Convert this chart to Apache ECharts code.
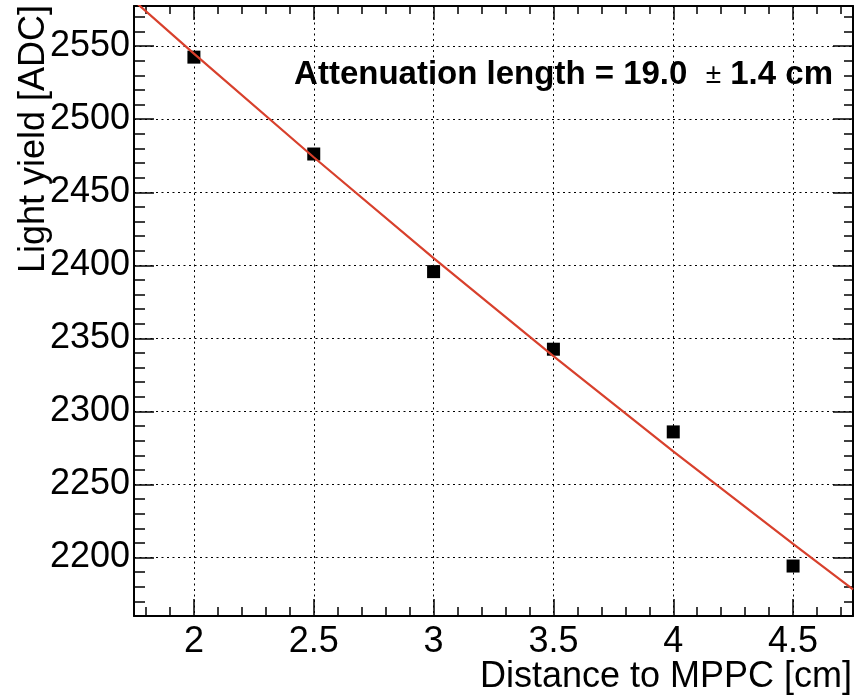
<!DOCTYPE html>
<html>
<head>
<meta charset="utf-8">
<script src="https://cdn.jsdelivr.net/npm/echarts@6/dist/echarts.min.js"></script>
<style>
html,body{margin:0;padding:0;background:#fff;}
#chart{width:856px;height:697px;}
</style>
</head>
<body>
<div id="chart"></div>
<script>
// ---- data ----
var distances = [2.0, 2.5, 3.0, 3.5, 4.0, 4.5];
var lightYield = [2542.5, 2476.2, 2395.7, 2342.6, 2286.0, 2194.2];
// fit curve
var fitX = [1.75, 2.0, 2.5, 3.0, 3.5, 4.0, 4.5, 4.75];
var fitY = [2581.1, 2544.9, 2474.0, 2405.0, 2337.9, 2272.7, 2209.3, 2178.3];
var xMajorTicks = [2, 2.5, 3, 3.5, 4, 4.5];
var xMinorTicks = [1.8,1.9,2.1,2.2,2.3,2.4,2.6,2.7,2.8,2.9,3.1,3.2,3.3,3.4,3.6,3.7,3.8,3.9,4.1,4.2,4.3,4.4,4.6,4.7];
var yMajorTicks = [2200, 2250, 2300, 2350, 2400, 2450, 2500, 2550];
var yMinorTicks = [2170,2180,2190,2210,2220,2230,2240,2260,2270,2280,2290,2310,2320,2330,2340,2360,2370,2380,2390,2410,2420,2430,2440,2460,2470,2480,2490,2510,2520,2530,2540,2560,2570];
var xTitle = 'Distance to MPPC [cm]';
var yTitle = 'Light yield [ADC]';
var fitLabelMain = 'Attenuation length = 19.0  ';
var fitLabelPm = '\u00b1';
var fitLabelErr = ' 1.4 cm';

var X_MIN = 1.75, X_MAX = 4.75, Y_MIN = 2160, Y_MAX = 2577.5;
var FONT = '"Liberation Sans", Arial, Helvetica, sans-serif';

var chart = echarts.init(document.getElementById('chart'), null, {renderer: 'canvas'});

function xAxisDef(pos, ticks, len, major, label) {
  return {
    type: 'value', position: pos, min: X_MIN, max: X_MAX,
    axisLine: {show: major, onZero: false, lineStyle: {color: '#000', width: 2}},
    axisTick: {show: true, inside: true, length: len, customValues: ticks, lineStyle: {color: '#000', width: 1.5}},
    axisLabel: label ? {show: true, customValues: xMajorTicks, fontSize: 36, fontFamily: FONT, color: '#000', margin: 8,
      formatter: function (v) { return String(v); }} : {show: false},
    splitLine: label ? {show: true, lineStyle: {color: '#000', width: 1, type: [2, 3.5]}} : {show: false},
    minorTick: {show: false}
  };
}
function yAxisDef(pos, ticks, len, major, label) {
  return {
    type: 'value', position: pos, min: Y_MIN, max: Y_MAX, splitNumber: 8,
    axisLine: {show: major, onZero: false, lineStyle: {color: '#000', width: 2}},
    axisTick: {show: true, inside: true, length: len, customValues: ticks, lineStyle: {color: '#000', width: 1.5}},
    axisLabel: label ? {show: true, customValues: yMajorTicks, fontSize: 36, fontFamily: FONT, color: '#000', margin: 4,
      formatter: function (v) { return String(v); }} : {show: false},
    splitLine: label ? {show: true, lineStyle: {color: '#000', width: 1, type: [2, 3.5]}} : {show: false}
  };
}

var option = {
  animation: false,
  backgroundColor: '#fff',
  grid: {left: 134, right: 3, top: 6, bottom: 81, containLabel: false},
  xAxis: [
    xAxisDef('bottom', xMajorTicks, 17, true, true),
    xAxisDef('bottom', xMinorTicks, 9, false, false),
    xAxisDef('top', xMajorTicks, 14, true, false),
    xAxisDef('top', xMinorTicks, 8, false, false)
  ],
  yAxis: [
    yAxisDef('left', yMajorTicks, 20, true, true),
    yAxisDef('left', yMinorTicks, 11, false, false),
    yAxisDef('right', yMajorTicks, 20, true, false),
    yAxisDef('right', yMinorTicks, 9, false, false)
  ],
  series: [
    {
      type: 'scatter', xAxisIndex: 0, yAxisIndex: 0,
      symbol: 'rect', symbolSize: 13,
      itemStyle: {color: '#000', opacity: 1},
      data: distances.map(function (d, i) { return [d, lightYield[i]]; }),
      z: 3
    },
    {
      type: 'line', xAxisIndex: 0, yAxisIndex: 0,
      showSymbol: false, clip: true,
      lineStyle: {color: '#d8402c', width: 2.2},
      data: fitX.map(function (d, i) { return [d, fitY[i]]; }),
      z: 4
    }
  ],
  graphic: [
    {
      type: 'text', x: 852, y: 677,
      style: {text: xTitle, align: 'right', verticalAlign: 'middle', font: '36px ' + FONT, fill: '#000'}
    },
    {
      type: 'text', x: 34, y: 5, rotation: Math.PI / 2,
      style: {text: yTitle, align: 'right', verticalAlign: 'middle', font: '36px ' + FONT, fill: '#000'}
    },
    {
      type: 'text', x: 833, y: 75,
      style: {
        text: '{b|' + fitLabelMain + '}{p|' + fitLabelPm + '}{b|' + fitLabelErr + '}',
        align: 'right', verticalAlign: 'middle',
        rich: {
          b: {fontSize: 33, fontWeight: 'bold', fontFamily: FONT, fill: '#000', color: '#000'},
          p: {fontSize: 28, fontWeight: 'normal', fontFamily: FONT, fill: '#000', color: '#000'}
        }
      }
    }
  ]
};
chart.setOption(option);
</script>
</body>
</html>
